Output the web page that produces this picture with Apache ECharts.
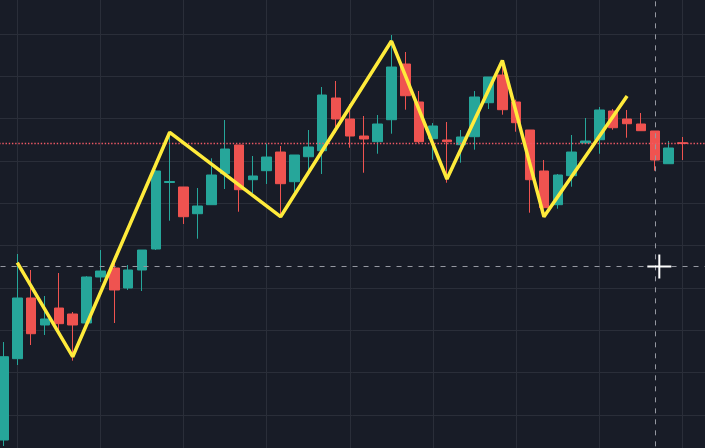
<!DOCTYPE html>
<html>
<head>
<meta charset="utf-8">
<script src="https://cdn.jsdelivr.net/npm/echarts@6/dist/echarts.min.js"></script>
<style>
html,body{margin:0;padding:0;background:#181c27;}
#c{width:705px;height:448px;}
</style>
</head>
<body>
<div id="c"></div>
<script>
// ---- data (price units) ----
// one empty slot before the first candle and two after the last keep the plot edge-to-edge
const categories = Array.from({length: 53}, (_, i) => 'b' + (i - 1));
const opens  = [94.09,113.30,127.64,121.26,125.27,123.86,121.73,132.60,134.72,130.00,134.25,139.21,154.92,153.86,147.55,149.68,157.00,163.78,155.58,157.71,162.12,155.11,161.01,162.43,174.88,169.92,165.90,164.56,169.75,182.91,173.94,165.27,164.96,163.85,165.74,173.77,180.31,173.94,167.32,157.64,149.68,156.53,164.25,165.03,171.81,169.92,168.74,167.09,159.36,164.32];
const closes = [113.77,127.64,119.20,122.68,121.57,121.26,132.60,134.01,129.53,134.25,138.97,157.64,155.16,146.84,149.37,156.69,162.83,153.22,156.46,160.94,154.64,161.42,163.31,175.59,169.92,165.90,165.20,168.74,182.20,175.42,164.56,168.27,164.56,165.67,175.12,179.84,172.12,169.05,155.58,148.97,156.69,162.12,164.72,172.05,167.86,168.81,167.16,160.23,163.07,164.13];
const lows   = [92.68,111.81,116.53,118.90,120.08,112.83,121.02,131.42,121.73,129.53,129.29,138.97,145.90,145.12,141.64,149.68,153.38,148.02,152.44,154.57,146.77,151.57,157.47,156.93,166.68,163.14,157.23,161.72,166.45,172.12,164.25,160.31,154.87,159.60,162.67,172.28,170.94,166.92,147.79,148.80,148.73,153.93,164.25,161.72,167.39,165.50,167.16,157.71,159.36,160.23];
const highs  = [117.24,138.03,134.25,128.11,133.54,124.33,132.80,138.97,137.32,135.43,138.97,157.87,166.61,153.86,153.62,160.64,169.68,163.78,161.18,164.09,163.54,161.42,167.32,177.48,178.90,173.46,170.63,170.86,189.76,185.75,176.53,168.97,169.21,167.32,176.53,179.84,183.86,174.48,167.32,160.23,156.93,166.14,170.16,172.75,172.28,172.05,171.34,167.09,164.72,165.67];
const zigzagIdx = [1, 5, 12, 20, 28, 32, 36, 39, 45];
const zigzagVal = [135.98, 113.77, 166.78, 146.84, 188.34, 155.75, 183.74, 146.84, 175.35];
const lastPrice = 164.13;
const crossIdx = 47;
const crossPrice = 135.08;

// ---- build series data ----
const PAD = 1;
const ohlc = categories.map(() => '-');
opens.forEach((o, i) => { ohlc[i + PAD] = [o, closes[i], lows[i], highs[i]]; });
const zigzag = categories.map(() => null);
zigzagIdx.forEach((idx, k) => { zigzag[idx + PAD] = zigzagVal[k]; });

const UP = '#26a69a', DOWN = '#ef5350', GRID = '#2a2e39', CROSS = '#9598a1';

const chart = echarts.init(document.getElementById('c'), null, {renderer: 'canvas'});
chart.setOption({
  backgroundColor: '#181c27',
  animation: false,
  grid: {left: -10.46, right: -5.26, top: -8.33, bottom: -9.33, containLabel: false, outerBoundsMode: 'none'},
  xAxis: {
    type: 'category', data: categories, boundaryGap: false,
    axisLine: {show: false}, axisTick: {show: false}, axisLabel: {show: false},
    splitLine: {show: true, interval: (i) => (i - 1 - PAD) % 6 === 0, lineStyle: {color: GRID, width: 1}}
  },
  yAxis: {
    type: 'value', min: 90, max: 200, interval: 10, scale: true,
    axisLine: {show: false}, axisTick: {show: false}, axisLabel: {show: false},
    splitLine: {show: true, lineStyle: {color: GRID, width: 1}}
  },
  series: [
    {
      type: 'candlestick', data: ohlc, barWidth: 10, clip: false,
      itemStyle: {color: UP, color0: DOWN, borderColor: UP, borderColor0: DOWN, borderWidth: 1},
      markLine: {
        silent: true, symbol: 'none', animation: false,
        label: {show: false},
        data: [
          {yAxis: lastPrice, lineStyle: {color: '#f05a66', width: 1.4, type: [1.4, 1.8], opacity: 1}},
          {xAxis: categories[crossIdx + PAD], lineStyle: {color: CROSS, width: 1, type: [5, 6], opacity: 1}},
          {yAxis: crossPrice, lineStyle: {color: CROSS, width: 1, type: [5, 6], opacity: 1}}
        ]
      },
      z: 2
    },
    {
      type: 'line', data: zigzag, connectNulls: true, symbol: 'none', clip: false,
      lineStyle: {color: '#ffeb3b', width: 3.5}, z: 5
    },
    {
      type: 'scatter', data: [[categories[crossIdx + PAD], crossPrice]],
      symbol: 'path://M11 0H13V11H24V13H13V24H11V13H0V11H11Z',
      symbolSize: [24, 24], symbolOffset: [4.5, 0], silent: true,
      itemStyle: {color: '#ffffff', opacity: 1}, z: 10
    }
  ]
});
</script>
</body>
</html>
